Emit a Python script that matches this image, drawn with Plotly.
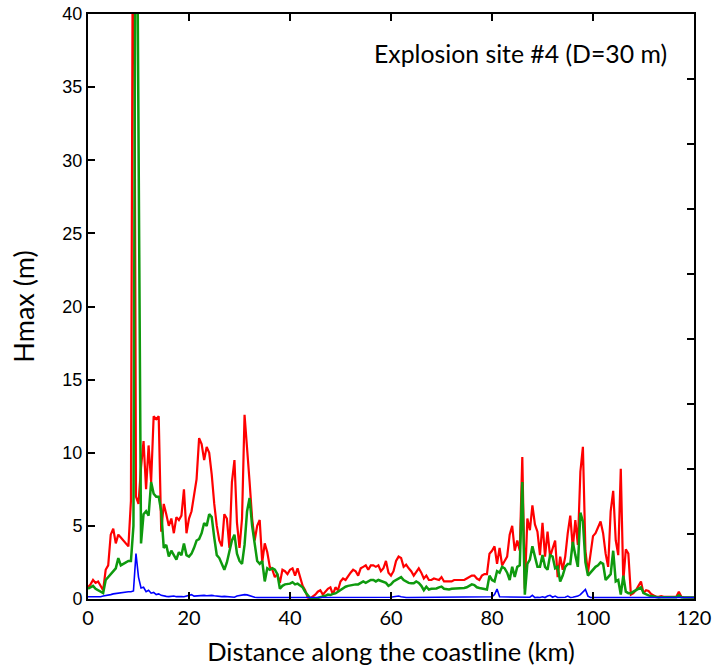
import plotly.graph_objects as go

# Distance along the coastline (km), 0.5 km spacing
distance_km = [round(0.5 * i, 1) for i in range(241)]

# Hmax (m) – red series
hmax_red = [
    0.8, 1.0, 1.3, 1.1, 1.2, 0.9, 0.6, 2.0, 2.3, 4.4, 4.8, 3.8, 4.4, 4.2, 4.0, 3.8, 3.6, 6.7, 60, 7.0,
    6.5, 9.0, 10.8, 7.5, 10.5, 8.0, 12.5, 12.3, 12.5, 4.6, 6.5, 5.8, 5.0, 5.5, 4.5, 5.6, 5.4, 5.7, 7.5, 4.5,
    5.5, 6.0, 7.2, 8.2, 11.0, 10.6, 9.5, 10.4, 10.0, 8.5, 6.5, 5.0, 4.0, 3.6, 5.8, 5.5, 3.5, 8.0, 9.5, 5.2,
    3.5, 5.5, 12.6, 10.5, 8.0, 5.5, 4.0, 5.0, 5.4, 2.5, 3.8, 3.2, 2.2, 2.0, 1.5, 1.7, 1.1, 2.0, 1.9, 1.7,
    2.0, 2.1, 1.6, 2.1, 1.5, 0.9, 0.6, 0.1, 0.05, 0.15, 0.3, 0.5, 0.6, 0.3, 0.5, 0.7, 0.8, 0.3, 0.8, 0.6,
    1.2, 1.4, 1.3, 1.6, 1.8, 2.0, 1.9, 1.6, 2.1, 2.2, 2.3, 2.0, 2.3, 2.3, 2.2, 2.3, 1.9, 2.1, 2.6, 1.8,
    1.6, 1.9, 2.6, 2.9, 2.8, 2.2, 2.35, 2.1, 1.9, 1.6, 1.9, 2.1, 1.8, 1.4, 1.6, 1.3, 1.3, 1.4, 1.35, 1.3,
    1.5, 1.2, 1.2, 1.2, 1.2, 1.3, 1.3, 1.3, 1.3, 1.3, 1.4, 1.5, 1.6, 1.6, 1.4, 1.3, 1.6, 1.7, 1.7, 3.1,
    3.3, 3.6, 2.4, 3.5, 2.3, 2.6, 2.9, 4.4, 5.0, 3.3, 4.0, 3.3, 9.7, 0.7, 5.5, 4.7, 6.4, 5.1, 4.6, 3.0,
    5.2, 2.9, 4.6, 2.9, 3.4, 4.0, 1.5, 2.9, 2.0, 2.9, 4.5, 5.7, 3.5, 5.4, 3.7, 8.7, 10.4, 3.3, 1.8, 2.9,
    4.3, 4.5, 4.9, 5.3, 4.5, 3.1, 2.2, 6.0, 7.4, 4.0, 3.0, 8.9, 1.2, 3.4, 3.1, 0.3, 0.4, 0.6, 0.9, 1.2,
    0.4, 0.6, 0.55, 0.35, 0.25, 0.15, 0.15, 0.2, 0.15, 0.15, 0.15, 0.12, 0.12, 0.15, 0.5, 0.15, 0.12, 0.12, 0.12, 0.1,
    0.1,
]

# Hmax (m) – green series
hmax_green = [
    0.7, 0.8, 0.9, 0.7, 0.6, 0.5, 0.4, 1.3, 1.5, 1.7, 1.9, 2.1, 2.8, 2.3, 2.4, 2.5, 2.6, 2.6, 5.0, 60,
    35, 3.8, 5.8, 6.0, 5.7, 8.0, 7.2, 7.0, 7.0, 6.0, 3.5, 3.7, 2.9, 3.3, 3.0, 2.7, 3.2, 3.0, 3.8, 3.0,
    2.9, 3.1, 3.5, 4.0, 4.1, 4.5, 5.2, 5.0, 5.8, 5.6, 4.2, 3.0, 2.8, 2.4, 2.0, 2.5, 3.3, 4.0, 4.4, 3.1,
    2.6, 2.4, 3.7, 6.0, 6.9, 5.0, 3.8, 2.6, 2.4, 2.6, 1.2, 2.1, 2.0, 2.1, 2.0, 1.7, 0.7, 0.9, 1.0, 1.0,
    1.05, 1.15, 1.0, 1.05, 0.9, 0.8, 0.5, 0.25, 0.05, 0.05, 0.05, 0.07, 0.12, 0.16, 0.22, 0.3, 0.27, 0.35, 0.38, 0.5,
    0.62, 0.72, 0.84, 0.9, 0.95, 1.0, 1.0, 1.0, 1.1, 1.2, 1.1, 1.2, 1.3, 1.3, 1.2, 1.3, 1.25, 1.2, 1.1, 0.9,
    1.0, 1.2, 1.3, 1.4, 1.5, 1.3, 1.2, 1.1, 1.07, 1.07, 1.2, 1.1, 0.9, 0.6, 0.84, 0.65, 0.7, 0.7, 0.72, 0.8,
    0.85, 0.7, 0.65, 0.65, 0.7, 0.7, 0.75, 0.75, 0.75, 0.75, 0.8, 0.9, 1.0, 0.95, 0.8, 0.75, 0.7, 0.7, 0.65, 1.6,
    1.3, 1.2, 1.9, 1.8, 2.2, 2.1, 1.8, 1.3, 2.2, 1.5, 2.2, 2.3, 8.0, 0.3, 2.4, 2.7, 3.6, 2.9, 2.2, 2.2,
    3.0, 2.2, 2.0, 3.0, 2.9, 2.1, 2.2, 1.2, 1.6, 2.2, 2.4, 2.4, 3.9, 3.0, 2.2, 5.9, 5.3, 2.5, 1.6, 1.8,
    2.0, 2.2, 2.3, 2.5, 2.4, 1.3, 1.5, 1.7, 3.3, 1.2, 1.3, 0.3, 1.6, 0.5, 0.4, 0.4, 0.5, 0.6, 0.75, 0.8,
    0.4, 0.3, 0.25, 0.2, 0.15, 0.15, 0.1, 0.12, 0.12, 0.1, 0.12, 0.1, 0.1, 0.12, 0.25, 0.12, 0.1, 0.1, 0.1, 0.1,
    0.1,
]

# Hmax (m) – blue series
hmax_blue = [
    0.15, 0.15, 0.15, 0.15, 0.12, 0.15, 0.2, 0.22, 0.27, 0.3, 0.35, 0.38, 0.4, 0.4, 0.45, 0.45, 0.5, 0.5, 0.55, 3.1,
    1.5, 0.75, 0.8, 0.5, 0.6, 0.4, 0.45, 0.3, 0.35, 0.25, 0.2, 0.18, 0.16, 0.18, 0.2, 0.16, 0.18, 0.16, 0.15, 0.2,
    0.25, 0.3, 0.2, 0.22, 0.25, 0.25, 0.25, 0.22, 0.25, 0.25, 0.22, 0.2, 0.16, 0.16, 0.18, 0.16, 0.16, 0.14, 0.12, 0.2,
    0.25, 0.25, 0.3, 0.28, 0.22, 0.18, 0.12, 0.1, 0.1, 0.1, 0.1, 0.1, 0.1, 0.1, 0.1, 0.1, 0.1, 0.1, 0.1, 0.1,
    0.1, 0.1, 0.1, 0.1, 0.1, 0.1, 0.1, 0.08, 0.08, 0.08, 0.08, 0.08, 0.08, 0.08, 0.08, 0.08, 0.08, 0.08, 0.08, 0.08,
    0.08, 0.08, 0.08, 0.08, 0.08, 0.08, 0.08, 0.08, 0.08, 0.08, 0.1, 0.1, 0.1, 0.1, 0.1, 0.1, 0.1, 0.1, 0.1, 0.1,
    0.12, 0.15, 0.18, 0.2, 0.15, 0.1, 0.1, 0.1, 0.1, 0.1, 0.1, 0.1, 0.1, 0.1, 0.1, 0.1, 0.1, 0.1, 0.1, 0.1,
    0.1, 0.1, 0.1, 0.1, 0.1, 0.1, 0.1, 0.1, 0.1, 0.1, 0.1, 0.1, 0.1, 0.1, 0.1, 0.1, 0.1, 0.1, 0.1, 0.1,
    0.15, 0.3, 0.68, 0.15, 0.15, 0.1, 0.12, 0.1, 0.12, 0.1, 0.12, 0.1, 0.12, 0.1, 0.15, 0.12, 0.25, 0.1, 0.12, 0.1,
    0.15, 0.1, 0.2, 0.25, 0.12, 0.2, 0.1, 0.12, 0.1, 0.12, 0.2, 0.1, 0.12, 0.15, 0.2, 0.3, 0.45, 0.65, 0.2, 0.1,
    0.1, 0.1, 0.12, 0.1, 0.1, 0.1, 0.1, 0.1, 0.1, 0.1, 0.1, 0.1, 0.1, 0.1, 0.1, 0.1, 0.1, 0.1, 0.1, 0.1,
    0.1, 0.1, 0.1, 0.1, 0.1, 0.1, 0.1, 0.1, 0.1, 0.1, 0.1, 0.1, 0.1, 0.1, 0.1, 0.1, 0.1, 0.1, 0.1, 0.1,
    0.1,
]

x_ticks = [0, 20, 40, 60, 80, 100, 120]
y_ticks = [0, 5, 10, 15, 20, 25, 30, 35, 40]

fig = go.Figure()
fig.add_trace(go.Scatter(x=distance_km, y=hmax_red, mode="lines",
                         line=dict(color="#ff0000", width=2.2), showlegend=False))
fig.add_trace(go.Scatter(x=distance_km, y=hmax_green, mode="lines",
                         line=dict(color="#0e9a0e", width=2.5), showlegend=False))
fig.add_trace(go.Scatter(x=distance_km, y=hmax_blue, mode="lines",
                         line=dict(color="#0000ff", width=1.6), showlegend=False))
# invisible trace to activate the top/right tick axes
fig.add_trace(go.Scatter(x=[0], y=[0], xaxis="x2", yaxis="y2", mode="lines",
                         line=dict(width=0), showlegend=False, hoverinfo="skip"))

fig.update_layout(
    width=719, height=666,
    margin=dict(l=88, r=25, t=14, b=67),
    paper_bgcolor="white", plot_bgcolor="white",
    xaxis=dict(range=[0, 120], tickvals=x_ticks, ticks="inside", ticklen=7, tickwidth=1.5,
               tickcolor="black", showgrid=False, zeroline=False, automargin=False,
               showline=True, linecolor="black", linewidth=2, mirror=True,
               tickfont=dict(family="Lato", size=20, color="black"),
               title=dict(text="Distance along the coastline (km)",
                          font=dict(family="Lato", size=25.5, color="black"), standoff=16)),
    yaxis=dict(range=[0, 40], tickvals=y_ticks, ticks="inside", ticklen=7, tickwidth=1.5,
               tickcolor="black", showgrid=False, zeroline=False, automargin=False,
               showline=True, linecolor="black", linewidth=2, mirror=True,
               tickfont=dict(family="Liberation Sans", size=18, color="black"),
               title=dict(text="Hmax (m)", font=dict(family="Lato", size=27, color="black"),
                          standoff=20)),
    xaxis2=dict(overlaying="x", side="top", range=[0, 120], tickvals=x_ticks, ticks="inside",
                ticklen=7, tickwidth=1.5, tickcolor="black", showticklabels=False,
                showgrid=False, zeroline=False, showline=False, automargin=False),
    yaxis2=dict(overlaying="y", side="right", range=[0, 9], dtick=1, ticks="inside",
                ticklen=7, tickwidth=1.5, tickcolor="black", showticklabels=False,
                showgrid=False, zeroline=False, showline=False, automargin=False),
    annotations=[dict(text="Explosion site #4 (D=30 m)", xref="paper", yref="paper",
                      x=0.958, y=0.933, xanchor="right", yanchor="middle", showarrow=False,
                      font=dict(family="Lato", size=24.8, color="black"))],
)

fig.write_html("out.html")
